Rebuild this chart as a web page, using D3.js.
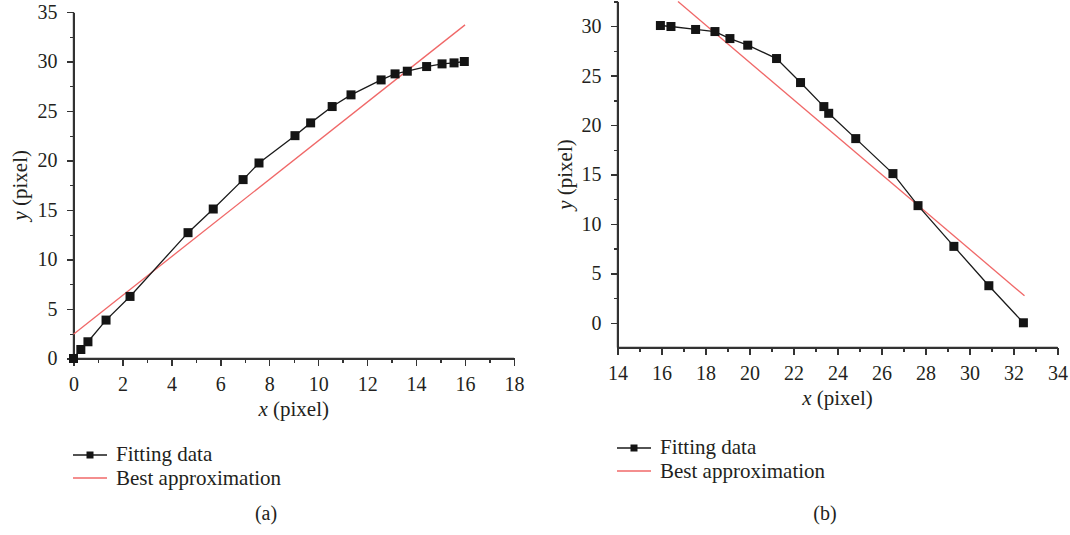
<!DOCTYPE html>
<html>
<head>
<meta charset="utf-8">
<script src="https://cdn.jsdelivr.net/npm/d3@7"></script>
<style>
  body { margin: 0; background: #fff; }
  svg text { font-family: "Liberation Serif", "Times New Roman", serif; fill: #231f20; }
  .axis path, .axis line { stroke: #333; stroke-width: 1.4px; shape-rendering: crispEdges; }
</style>
</head>
<body>
<div id="chart"></div>
<script>
// panel (a): fitting data and best approximation line
var fitAx = [0, 0.30, 0.59, 1.33, 2.31, 4.68, 5.71, 6.93, 7.58, 9.05, 9.69, 10.57, 11.34, 12.57, 13.14, 13.64, 14.43, 15.06, 15.55, 15.97];
var fitAy = [0, 0.91, 1.69, 3.88, 6.27, 12.71, 15.10, 18.07, 19.75, 22.51, 23.80, 25.45, 26.63, 28.14, 28.75, 29.02, 29.49, 29.76, 29.86, 30.00];
var bestAx = [0, 16];
var bestAy = [2.46, 33.7];

// panel (b)
var fitBx = [15.95, 16.43, 17.55, 18.43, 19.11, 19.92, 21.23, 22.32, 23.38, 23.60, 24.83, 26.52, 27.66, 29.29, 30.88, 32.45];
var fitBy = [30.07, 29.97, 29.67, 29.46, 28.75, 28.08, 26.73, 24.30, 21.87, 21.19, 18.63, 15.09, 11.85, 7.73, 3.75, 0];
var bestBx = [16.75, 32.5];
var bestBy = [32.5, 2.73];

// tick labels
var xTicksA = [0, 2, 4, 6, 8, 10, 12, 14, 16, 18];
var yTicksA = [0, 5, 10, 15, 20, 25, 30, 35];
var xTicksB = [14, 16, 18, 20, 22, 24, 26, 28, 30, 32, 34];
var yTicksB = [0, 5, 10, 15, 20, 25, 30];

var legendLabels = ["Fitting data", "Best approximation"];
var panelLabels = ["(a)", "(b)"];

var width = 1070, height = 535;
var serif = "'Liberation Serif', 'Times New Roman', serif";

var svg = d3.select("#chart").append("svg")
  .attr("width", width)
  .attr("height", height);

function zip(xs, ys){
  return xs.map(function(x, i){ return {x: x, y: ys[i]}; });
}

function minorTicks(major){
  var step = major[1] - major[0];
  var out = [];
  for (var i = 0; i < major.length - 1; i++) out.push(major[i] + step / 2);
  return out;
}

function drawPanel(obj){
  var x = d3.scaleLinear().domain(obj.xDomain).range(obj.xRange);
  var y = d3.scaleLinear().domain(obj.yDomain).range(obj.yRange);
  var g = svg.append("g");

  // minor ticks first, then major axis on top
  g.append("g").attr("class", "axis")
    .attr("transform", "translate(0," + obj.yRange[0] + ")")
    .call(d3.axisBottom(x).tickValues(obj.xMinor).tickSize(4).tickSizeOuter(0).tickFormat(""));
  g.append("g").attr("class", "axis")
    .attr("transform", "translate(" + obj.xRange[0] + ",0)")
    .call(d3.axisLeft(y).tickValues(obj.yMinor).tickSize(4).tickSizeOuter(0).tickFormat(""));

  var gx = g.append("g").attr("class", "axis")
    .attr("transform", "translate(0," + obj.yRange[0] + ")")
    .call(d3.axisBottom(x).tickValues(obj.xTicks).tickSize(7).tickSizeOuter(0).tickPadding(8));
  gx.attr("font-family", serif);
  gx.selectAll(".tick text").style("font-family", serif).style("font-size", "20px").attr("dy", "0.85em");

  var gy = g.append("g").attr("class", "axis")
    .attr("transform", "translate(" + obj.xRange[0] + ",0)")
    .call(d3.axisLeft(y).tickValues(obj.yTicks).tickSize(7).tickSizeOuter(0).tickPadding(9));
  gy.attr("font-family", serif);
  gy.selectAll(".tick text").style("font-family", serif).style("font-size", "20px");
  gx.select(".domain").remove();
  gy.select(".domain").remove();

  // axis lines
  g.append("line").attr("x1", obj.xRange[0]).attr("x2", obj.xRange[1])
    .attr("y1", obj.yRange[0]).attr("y2", obj.yRange[0])
    .attr("stroke", "#333").attr("stroke-width", 1.4);
  g.append("line").attr("x1", obj.xRange[0]).attr("x2", obj.xRange[0])
    .attr("y1", obj.yRange[0]).attr("y2", obj.yRange[1])
    .attr("stroke", "#333").attr("stroke-width", 1.4);

  // axis titles
  var xt = g.append("text")
    .attr("x", (obj.xRange[0] + obj.xRange[1]) / 2)
    .attr("y", obj.yRange[0] + 57)
    .attr("text-anchor", "middle")
    .style("font-size", "21px");
  xt.append("tspan").style("font-style", "italic").text("x");
  xt.append("tspan").text(" (pixel)");

  var yt = g.append("text")
    .attr("transform", "translate(" + obj.yTitleX + "," + ((obj.yRange[0] + obj.yRange[1]) / 2) + ") rotate(-90)")
    .attr("text-anchor", "middle")
    .style("font-size", "21px");
  yt.append("tspan").style("font-style", "italic").text("y");
  yt.append("tspan").text(" (pixel)");

  // best approximation
  var line = d3.line().x(function(d){ return x(d.x); }).y(function(d){ return y(d.y); });
  g.append("path").datum(obj.best)
    .attr("d", line)
    .attr("fill", "none")
    .attr("stroke", "#f06868")
    .attr("stroke-width", 1.3);

  // fitting data
  g.append("path").datum(obj.fit)
    .attr("d", line)
    .attr("fill", "none")
    .attr("stroke", "#1a1a1a")
    .attr("stroke-width", 1.3);

  var s = 9;
  g.selectAll(".pt").data(obj.fit).enter().append("rect")
    .attr("class", "pt")
    .attr("x", function(d){ return x(d.x) - s / 2; })
    .attr("y", function(d){ return y(d.y) - s / 2; })
    .attr("width", s).attr("height", s)
    .attr("fill", "#141414");

  // legend
  var lg = g.append("g").attr("transform", "translate(" + obj.legendX + "," + obj.legendY + ")");
  lg.append("line").attr("x1", 0).attr("x2", 34).attr("y1", 0).attr("y2", 0)
    .attr("stroke", "#1a1a1a").attr("stroke-width", 1.3);
  lg.append("rect").attr("x", 17 - 3.5).attr("y", -3.5).attr("width", 7).attr("height", 7).attr("fill", "#141414");
  lg.append("text").attr("x", 43).attr("y", 6).style("font-size", "21px").text(legendLabels[0]);
  lg.append("line").attr("x1", 0).attr("x2", 34).attr("y1", 23).attr("y2", 23)
    .attr("stroke", "#f06868").attr("stroke-width", 1.3);
  lg.append("text").attr("x", 43).attr("y", 30).style("font-size", "21px").text(legendLabels[1]);

  g.append("text")
    .attr("x", obj.labelX).attr("y", 520)
    .attr("text-anchor", "middle")
    .style("font-size", "20px")
    .text(obj.label);
}

drawPanel({
  xDomain: [0, 18], xRange: [73.5, 514],
  yDomain: [0, 35], yRange: [358.5, 12],
  xTicks: xTicksA, yTicks: yTicksA,
  xMinor: minorTicks(xTicksA), yMinor: minorTicks(yTicksA),
  fit: zip(fitAx, fitAy), best: zip(bestAx, bestAy),
  yTitleX: 27, legendX: 73, legendY: 455, labelX: 266, label: panelLabels[0]
});

drawPanel({
  xDomain: [14, 34], xRange: [617.5, 1057.5],
  yDomain: [-2.5, 32.5], yRange: [347.5, 1.5],
  xTicks: xTicksB, yTicks: yTicksB,
  xMinor: minorTicks(xTicksB), yMinor: minorTicks(yTicksB).concat([32.5]),
  fit: zip(fitBx, fitBy), best: zip(bestBx, bestBy),
  yTitleX: 572, legendX: 617, legendY: 448, labelX: 825, label: panelLabels[1]
});
</script>
</body>
</html>
